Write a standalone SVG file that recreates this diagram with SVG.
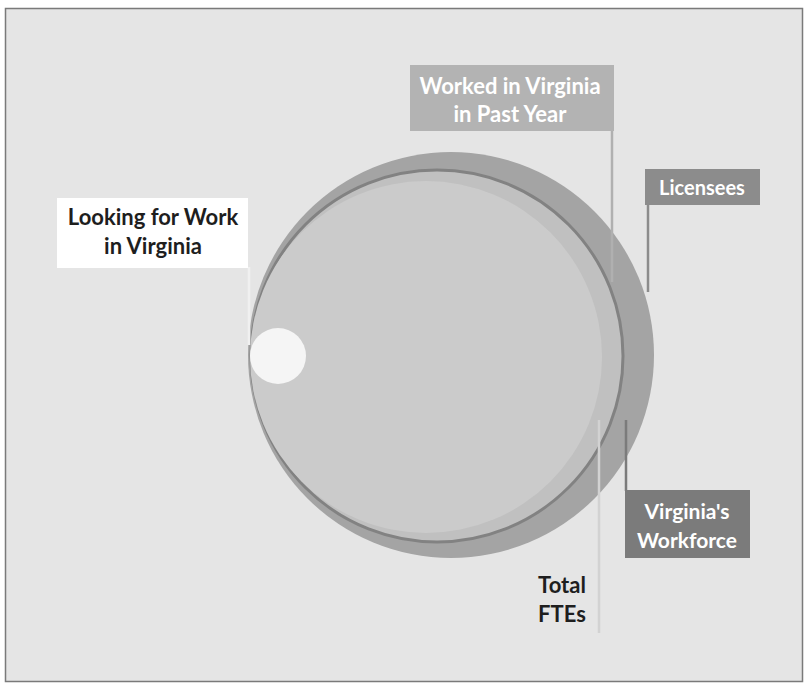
<svg xmlns="http://www.w3.org/2000/svg" width="804" height="686" viewBox="0 0 804 686">
<style>
.lbl{font-family:Lato,"Open Sans","Liberation Sans",sans-serif;font-weight:700;text-anchor:middle}
.w{fill:#ffffff}
.k{fill:#1e1e1e}
.ld{fill:none;stroke-width:2.5}
</style>
<rect x="0" y="0" width="804" height="686" fill="#ffffff"/>
<rect x="5.5" y="8.5" width="797" height="673" fill="#e5e5e5" stroke="#7a7a7a" stroke-width="1.5"/>
<g id="licensees-circle"><circle cx="451" cy="355" r="203" fill="#a4a4a4"/></g>
<g id="worked-circle"><circle cx="437" cy="356" r="186" fill="#c0c0c0" stroke="#828282" stroke-width="3"/></g>
<g id="fte-circle"><circle cx="426" cy="357" r="176" fill="#cbcbcb"/></g>
<g id="looking-circle"><circle cx="278" cy="356" r="28" fill="#f5f5f5"/></g>
<g id="connectors">
<line class="ld" x1="612" y1="130" x2="612" y2="282" stroke="#b0b0b0"/>
<line class="ld" x1="648" y1="204" x2="648" y2="292" stroke="#8c8c8c"/>
<line class="ld" x1="626" y1="420" x2="626" y2="491" stroke="#7b7b7b"/>
<line class="ld" x1="599" y1="420" x2="599" y2="633" stroke="#d2d2d2"/>
<line class="ld" x1="249" y1="267" x2="249" y2="345" stroke="#f0f0f0"/>
</g>
<g id="worked-label">
<rect x="410" y="65" width="204" height="66" fill="#b3b3b3"/>
<text class="lbl w" x="510" y="94" font-size="22">Worked in Virginia</text>
<text class="lbl w" x="510" y="122" font-size="22">in Past Year</text>
</g>
<g id="licensees-label">
<rect x="645" y="169" width="115" height="36" fill="#8c8c8c"/>
<text class="lbl w" x="702" y="195" font-size="20">Licensees</text>
</g>
<g id="workforce-label">
<rect x="625" y="490" width="125" height="68" fill="#7b7b7b"/>
<text class="lbl w" x="687" y="519" font-size="21">Virginia's</text>
<text class="lbl w" x="687" y="548" font-size="21">Workforce</text>
</g>
<g id="looking-label">
<rect x="57" y="198" width="191" height="70" fill="#ffffff"/>
<text class="lbl k" x="153" y="225" font-size="22">Looking for Work</text>
<text class="lbl k" x="153" y="254" font-size="22">in Virginia</text>
</g>
<g id="fte-label">
<text class="lbl k" x="562" y="593" font-size="22">Total</text>
<text class="lbl k" x="562" y="622" font-size="22">FTEs</text>
</g>
</svg>
